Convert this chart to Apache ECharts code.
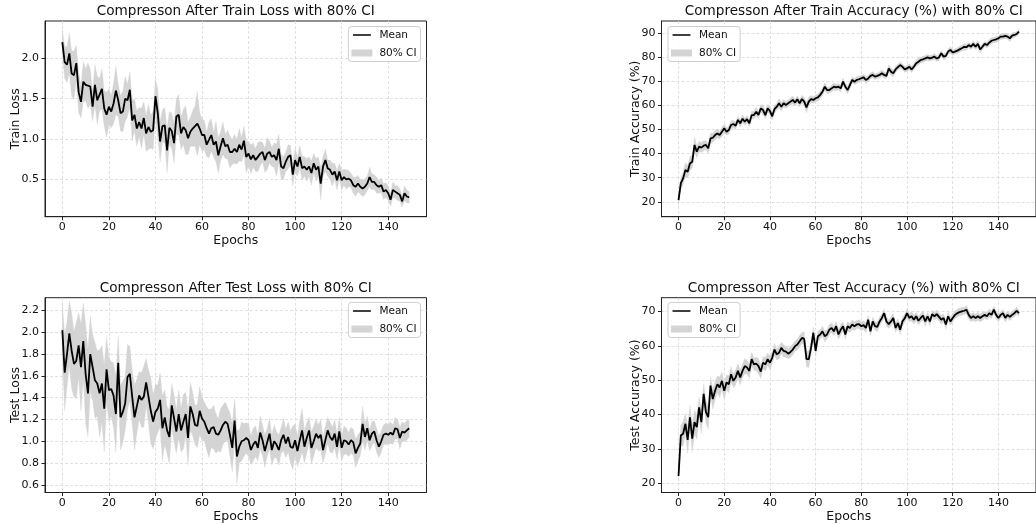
<!DOCTYPE html>
<html><head><meta charset="utf-8">
<script src="https://cdn.jsdelivr.net/npm/echarts@6/dist/echarts.min.js"></script>
<style>html,body{margin:0;padding:0;background:#fff}#c{width:1036px;height:524px}</style>
</head><body><div id="c"></div>
<script>
// ---------------- data ----------------
const xTicks = [0, 20, 40, 60, 80, 100, 120, 140];
const trainLossTicks = [0.5, 1.0, 1.5, 2.0];
const trainAccTicks = [20, 30, 40, 50, 60, 70, 80, 90];
const testLossTicks = [0.6, 0.8, 1.0, 1.2, 1.4, 1.6, 1.8, 2.0, 2.2];
const testAccTicks = [20, 30, 40, 50, 60, 70];

const trainLossMean = [
2.20,1.95,1.92,2.06,1.81,1.79,1.94,1.58,1.46,1.71,
1.67,1.66,1.65,1.40,1.67,1.48,1.55,1.62,1.38,1.30,
1.40,1.34,1.44,1.60,1.48,1.32,1.34,1.50,1.48,1.61,
1.23,1.30,1.13,1.21,1.13,1.26,1.07,1.15,1.09,1.11,
1.53,1.32,0.97,1.16,1.17,0.86,1.14,1.10,0.95,1.28,
1.30,1.07,1.15,1.11,1.01,1.09,1.13,1.16,1.19,1.13,
1.05,1.05,0.93,0.99,1.05,0.93,0.97,0.80,0.91,1.01,
0.91,0.93,0.84,0.84,0.88,0.84,0.93,0.87,0.98,0.78,
0.82,0.75,0.80,0.74,0.78,0.82,0.84,0.74,0.82,0.84,
0.78,0.80,0.74,0.88,0.66,0.64,0.72,0.78,0.80,0.56,
0.74,0.66,0.78,0.64,0.66,0.62,0.66,0.58,0.70,0.62,
0.66,0.45,0.66,0.74,0.64,0.62,0.56,0.60,0.49,0.60,
0.49,0.53,0.50,0.51,0.49,0.43,0.41,0.45,0.41,0.39,
0.41,0.45,0.53,0.47,0.47,0.43,0.41,0.43,0.35,0.37,
0.33,0.25,0.37,0.35,0.33,0.31,0.23,0.33,0.29,0.28];
const trainLossCI = [
0.15,0.20,0.22,0.25,0.28,0.30,0.22,0.25,0.20,0.25,
0.20,0.28,0.22,0.18,0.25,0.30,0.20,0.25,0.22,0.28,
0.22,0.20,0.25,0.30,0.20,0.22,0.25,0.28,0.20,0.22,
0.25,0.20,0.22,0.18,0.25,0.20,0.22,0.28,0.20,0.24,
0.22,0.30,0.25,0.20,0.22,0.28,0.20,0.22,0.25,0.22,
0.25,0.20,0.22,0.30,0.20,0.18,0.22,0.25,0.40,0.20,
0.20,0.18,0.15,0.22,0.20,0.15,0.25,0.22,0.18,0.20,
0.15,0.18,0.20,0.15,0.18,0.15,0.20,0.15,0.18,0.20,
0.15,0.18,0.15,0.14,0.18,0.15,0.12,0.15,0.20,0.14,
0.12,0.15,0.20,0.18,0.15,0.14,0.12,0.15,0.12,0.14,
0.15,0.12,0.14,0.15,0.12,0.14,0.12,0.15,0.12,0.14,
0.12,0.20,0.12,0.14,0.10,0.12,0.14,0.10,0.12,0.10,
0.12,0.10,0.12,0.10,0.09,0.10,0.12,0.10,0.09,0.10,
0.10,0.09,0.12,0.10,0.09,0.10,0.08,0.09,0.10,0.09,
0.09,0.08,0.10,0.08,0.09,0.08,0.07,0.09,0.08,0.07];

const trainAccMean = [
20.7,27.6,29.7,33.2,32.5,35.9,36.6,43.6,40.8,42.9,
42.5,43.3,43.6,42.2,46.3,46.6,47.7,48.4,47.7,49.1,
50.5,49.1,49.8,51.9,52.3,51.6,54.0,52.6,54.5,53.3,
54.3,52.6,56.0,56.0,57.4,56.1,58.8,58.1,56.0,58.8,
57.8,55.5,58.5,59.5,60.9,59.5,60.9,60.2,60.9,61.6,
62.3,61.2,62.6,60.9,62.7,61.6,59.2,61.6,62.6,62.3,
63.0,63.4,64.4,65.7,67.8,66.4,66.4,67.1,67.8,67.5,
67.8,67.1,69.9,67.8,66.4,68.5,70.6,69.9,70.6,70.9,
71.3,71.7,70.6,71.2,72.3,72.7,72.0,72.3,72.7,73.4,
72.7,72.3,75.4,74.0,73.4,75.0,75.9,76.8,76.1,75.0,
75.4,76.1,75.0,76.1,77.5,78.2,78.9,79.2,79.6,80.0,
79.6,79.9,80.3,79.5,80.0,81.7,80.3,80.6,82.4,83.1,
82.0,82.4,82.8,83.3,83.8,84.4,84.2,85.1,84.4,85.6,
84.4,85.6,83.3,84.4,85.6,85.1,86.1,86.9,87.2,87.5,
87.9,88.6,88.6,88.9,88.6,87.9,89.0,89.3,89.7,90.7];
const trainAccCI = [
2.0,2.6,2.5,3.0,2.6,3.0,2.6,3.2,2.5,2.2,
2.0,2.2,1.8,2.1,2.3,1.8,2.0,1.8,1.6,2.0,
1.8,1.5,1.7,1.8,1.5,1.6,1.4,1.6,1.7,1.5,
1.5,1.4,1.7,1.5,1.8,1.5,1.6,2.0,1.5,1.6,
1.8,1.6,1.7,1.4,2.0,1.8,1.6,1.5,1.4,1.5,
1.6,1.5,1.4,1.5,1.6,1.8,2.2,1.8,1.5,1.4,
1.4,1.5,1.6,1.5,1.6,1.4,1.2,1.4,1.5,1.4,
1.3,1.4,1.5,1.4,1.6,1.4,1.3,1.2,1.4,1.3,
1.2,1.3,1.4,1.3,1.2,1.4,1.3,1.2,1.3,1.4,
1.3,1.2,1.5,1.6,1.4,1.3,1.2,1.4,1.2,1.3,
1.2,1.3,1.4,1.2,1.3,1.4,1.2,1.3,1.2,1.3,
1.2,1.1,1.3,1.2,1.4,1.2,1.3,1.2,1.1,1.3,
1.2,1.1,1.2,1.3,1.2,1.4,1.2,1.1,1.2,1.3,
1.2,1.4,1.3,1.2,1.1,1.2,1.3,1.2,1.1,1.2,
1.1,1.2,1.1,1.2,1.1,1.3,1.2,1.1,1.0,1.1];

const testLossMean = [
2.02,1.63,1.80,1.99,1.83,1.71,1.74,1.88,1.68,1.92,
1.62,1.44,1.80,1.68,1.56,1.53,1.44,1.53,1.30,1.66,
1.47,1.48,1.42,1.25,1.72,1.22,1.27,1.35,1.59,1.62,
1.41,1.22,1.32,1.42,1.38,1.41,1.54,1.41,1.28,1.18,
1.27,1.30,1.38,1.12,1.22,1.10,1.04,1.33,1.21,1.09,
1.25,1.10,1.18,1.25,1.03,1.32,1.25,1.15,1.14,1.28,
1.21,1.18,1.12,1.07,1.12,1.13,1.07,1.06,1.10,1.15,
1.18,1.16,1.06,0.94,1.19,0.86,0.95,1.00,1.01,1.03,
1.01,0.92,0.97,1.00,0.94,1.08,1.01,0.91,0.99,1.07,
0.92,1.00,0.97,0.92,1.01,1.06,0.98,1.04,0.95,0.94,
1.01,0.91,1.01,1.10,0.95,1.03,1.10,0.94,1.00,1.07,
1.03,1.06,0.92,1.01,1.10,1.04,1.01,1.07,0.95,1.09,
0.94,1.01,1.00,0.97,1.01,0.99,0.89,0.94,0.98,1.16,
1.04,1.12,1.01,1.07,1.09,1.01,0.95,1.00,1.06,1.07,
1.06,1.08,1.06,1.12,1.11,1.03,1.09,1.08,1.10,1.12];
const testLossCI = [
0.25,0.35,0.30,0.30,0.35,0.30,0.35,0.30,0.40,0.35,
0.45,0.40,0.35,0.30,0.35,0.30,0.40,0.35,0.40,0.30,
0.30,0.25,0.30,0.35,0.25,0.30,0.28,0.25,0.30,0.25,
0.25,0.30,0.25,0.22,0.25,0.28,0.22,0.25,0.30,0.25,
0.25,0.22,0.25,0.30,0.25,0.22,0.25,0.20,0.22,0.20,
0.22,0.20,0.25,0.20,0.25,0.22,0.20,0.18,0.20,0.22,
0.20,0.18,0.20,0.22,0.18,0.20,0.18,0.15,0.20,0.18,
0.18,0.15,0.20,0.22,0.20,0.25,0.15,0.18,0.15,0.14,
0.15,0.13,0.15,0.14,0.12,0.15,0.14,0.15,0.13,0.14,
0.14,0.15,0.12,0.14,0.12,0.15,0.13,0.14,0.15,0.20,
0.15,0.14,0.18,0.20,0.15,0.14,0.12,0.15,0.14,0.13,
0.12,0.14,0.12,0.13,0.12,0.14,0.12,0.13,0.12,0.13,
0.12,0.13,0.12,0.11,0.12,0.12,0.13,0.12,0.11,0.16,
0.12,0.11,0.10,0.11,0.10,0.11,0.10,0.10,0.09,0.10,
0.09,0.10,0.09,0.10,0.09,0.10,0.09,0.08,0.09,0.08];

const testAccMean = [
22.1,33.9,34.4,37.3,32.6,39.2,33.0,37.8,36.3,42.1,
37.8,46.0,40.7,39.2,48.4,44.5,46.9,48.8,47.9,49.8,
46.9,49.3,48.8,51.7,49.8,50.8,52.7,50.8,52.7,54.1,
53.7,52.7,56.1,54.6,54.8,54.1,52.5,55.1,54.6,56.1,
55.1,56.5,58.9,57.5,58.0,59.4,58.5,58.3,57.7,58.2,
58.9,59.9,60.4,61.3,62.3,62.0,56.1,56.1,59.4,63.8,
58.5,62.8,63.3,64.2,62.8,63.3,64.7,65.2,64.2,65.7,
63.3,64.7,65.7,63.3,65.7,65.2,66.2,65.7,66.2,66.3,
65.7,66.0,65.2,67.6,64.2,67.1,65.7,65.5,67.1,68.1,
69.5,67.1,66.3,67.1,68.1,65.2,66.6,64.7,67.1,68.0,
69.5,68.1,68.6,67.6,68.6,67.3,68.1,68.8,67.1,68.6,
67.1,69.2,68.6,69.2,68.4,67.6,68.1,66.2,68.6,67.1,
68.1,69.0,69.5,69.8,70.0,70.2,70.5,69.0,68.1,68.6,
68.1,68.6,68.1,68.6,69.0,68.6,69.5,69.0,70.5,69.0,
68.1,69.0,69.5,68.1,69.0,68.4,69.0,69.5,70.2,69.5];
const testAccCI = [
1.5,3.0,3.5,3.0,4.0,3.5,4.0,3.5,3.5,3.0,
3.5,3.0,3.2,3.5,2.6,3.0,2.6,2.5,3.0,2.5,
2.5,2.2,2.5,2.2,2.0,2.2,2.0,2.2,2.0,2.2,
2.0,2.2,2.0,1.8,2.0,2.2,2.0,1.8,2.0,1.8,
2.0,1.8,1.8,1.6,1.8,1.6,1.8,1.6,1.5,1.6,
1.6,1.5,1.6,1.8,1.6,2.0,2.2,2.5,1.8,1.6,
1.6,1.5,1.4,1.5,1.6,1.4,1.5,1.4,1.3,1.5,
1.4,1.5,1.3,1.5,1.4,1.3,1.4,1.3,1.2,1.3,
1.3,1.2,1.4,1.3,1.5,1.3,1.2,1.4,1.3,1.2,
1.3,1.4,1.2,1.3,1.2,1.4,1.3,1.5,1.3,1.2,
1.3,1.2,1.4,1.3,1.2,1.3,1.2,1.3,1.4,1.2,
1.3,1.2,1.1,1.3,1.2,1.3,1.2,1.4,1.3,1.2,
1.2,1.1,1.2,1.1,1.2,1.0,1.2,1.3,1.1,1.2,
1.1,1.2,1.1,1.2,1.0,1.1,1.2,1.1,1.0,1.1,
1.1,1.0,1.1,1.2,1.0,1.1,1.0,1.1,1.0,0.9];

const titles = [
  'Compresson After Train Loss with 80% CI',
  'Compresson After Train Accuracy (%) with 80% CI',
  'Compresson After Test Loss with 80% CI',
  'Compresson After Test Accuracy (%) with 80% CI'];
const yNames = ['Train Loss', 'Train Accuracy (%)', 'Test Loss', 'Test Accuracy (%)'];
const legendNames = ['Mean', '80% CI'];

// ---------------- layout ----------------
const panels = [
  {mean: trainLossMean, ci: trainLossCI, ticks: trainLossTicks, dec: 1, ymin: 0.04, ymax: 2.46, yGap: 23,
   grid: {left: 45, top: 21, width: 381.5, height: 195.7}, legend: {right: 615.5, top: 26.5}, titleTop: 4},
  {mean: trainAccMean, ci: trainAccCI, ticks: trainAccTicks, dec: 0, ymin: 13.8, ymax: 95.1, yGap: 19.5,
   grid: {left: 661.5, top: 21, width: 384.5, height: 195.7}, legend: {left: 668, top: 26.5}, titleTop: 4},
  {mean: testLossMean, ci: testLossCI, ticks: testLossTicks, dec: 1, ymin: 0.53, ymax: 2.318, yGap: 23,
   grid: {left: 45, top: 297.7, width: 381.5, height: 197.3}, legend: {right: 615.5, top: 302.5}, titleTop: 281},
  {mean: testAccMean, ci: testAccCI, ticks: testAccTicks, dec: 0, ymin: 17.3, ymax: 74.0, yGap: 19.5,
   grid: {left: 661.5, top: 297.7, width: 384.5, height: 196.6}, legend: {left: 668, top: 302.5}, titleTop: 281}
];

const FONT = 'DejaVu Sans';
const TXT = '#111';
const BAND = '#d4d4d4';
const grids = [], xAxes = [], yAxes = [], series = [], titleArr = [], legends = [];
const epochs = trainLossMean.map((_, k) => k);

panels.forEach((p, i) => {
  grids.push(Object.assign({show: true, borderColor: '#222', borderWidth: 1, backgroundColor: '#fff'}, p.grid));
  titleArr.push({
    text: titles[i], left: p.grid.left + p.grid.width / 2, top: p.titleTop, textAlign: 'center', padding: 0,
    textStyle: {fontFamily: FONT, fontSize: 13.6, fontWeight: 'normal', color: TXT}
  });
  xAxes.push({
    gridIndex: i, type: 'value', min: -7.45, max: 156.45,
    axisLine: {show: true, onZero: false, lineStyle: {color: '#222', width: 1}},
    axisTick: {show: true, customValues: xTicks, length: 3.5, lineStyle: {color: '#222'}},
    axisLabel: {customValues: xTicks, fontFamily: FONT, fontSize: 11, color: TXT, margin: 5},
    splitLine: {show: true, lineStyle: {color: '#d8d8d8', width: 0.8, type: [3, 2]}},
    name: 'Epochs', nameLocation: 'middle', nameGap: 17.5, nameMoveOverlap: false,
    nameTextStyle: {fontFamily: FONT, fontSize: 12.5, color: TXT}
  });
  yAxes.push({
    gridIndex: i, type: 'value', min: p.ymin, max: p.ymax,
    axisLine: {show: true, onZero: false, lineStyle: {color: '#222', width: 1}},
    axisTick: {show: true, customValues: p.ticks, length: 3.5, lineStyle: {color: '#222'}},
    axisLabel: {customValues: p.ticks, fontFamily: FONT, fontSize: 11, color: TXT, margin: 6,
      formatter: v => Number(v).toFixed(p.dec)},
    splitLine: {show: true, lineStyle: {color: '#d8d8d8', width: 0.8, type: [3, 2]}},
    name: yNames[i], nameLocation: 'middle', nameGap: p.yGap, nameMoveOverlap: false,
    nameTextStyle: {fontFamily: FONT, fontSize: 12.5, color: TXT}
  });
  // CI band: one polygon through lower and upper bounds, positioned by the axes
  const lower = p.mean.map((m, k) => m - p.ci[k]);
  const upper = p.mean.map((m, k) => m + p.ci[k]);
  series.push({
    type: 'custom', name: '80% CI', xAxisIndex: i, yAxisIndex: i, silent: true, z: 1,
    itemStyle: {color: BAND},
    data: [[0, lower[0], upper[0]]],
    encode: {x: 0, y: [1, 2]},
    renderItem: (params, api) => {
      const pts = [];
      for (let k = 0; k < epochs.length; k++) pts.push(api.coord([epochs[k], upper[k]]));
      for (let k = epochs.length - 1; k >= 0; k--) pts.push(api.coord([epochs[k], lower[k]]));
      return {
        type: 'polygon', shape: {points: pts},
        style: {fill: BAND, stroke: BAND, lineWidth: 0.3},
        clipPath: {type: 'rect', shape: {x: params.coordSys.x, y: params.coordSys.y,
                   width: params.coordSys.width, height: params.coordSys.height}}
      };
    }
  });
  series.push({
    type: 'line', name: 'Mean', xAxisIndex: i, yAxisIndex: i,
    data: epochs.map((e, k) => [e, p.mean[k]]),
    symbol: 'none', silent: true, lineStyle: {color: '#000', width: 1.8},
    itemStyle: {color: '#000'}, z: 3
  });
  legends.push(Object.assign({
    orient: 'vertical', selectedMode: false,
    data: [
      {name: legendNames[0], icon: 'path://M0,0L22,0L22,0.05L0,0.05Z M0,3.4L22,3.4L22,5.2L0,5.2Z M0,8.55L22,8.55L22,8.6L0,8.6Z', itemStyle: {color: '#000'}},
      {name: legendNames[1], icon: 'rect', itemStyle: {color: BAND}}
    ],
    itemWidth: 21, itemHeight: 7, itemGap: 7,
    padding: [3, 4, 3, 3],
    backgroundColor: 'rgba(255,255,255,0.85)', borderColor: '#cfcfcf', borderWidth: 1, borderRadius: 3,
    textStyle: {fontFamily: FONT, fontSize: 10.5, color: TXT, padding: [0, 0, 0, 2]}
  }, p.legend));
});

const chart = echarts.init(document.getElementById('c'), null, {renderer: 'canvas'});
chart.setOption({
  animation: false,
  backgroundColor: '#fff',
  title: titleArr,
  legend: legends,
  grid: grids,
  xAxis: xAxes,
  yAxis: yAxes,
  series: series
});
</script>
</body></html>
